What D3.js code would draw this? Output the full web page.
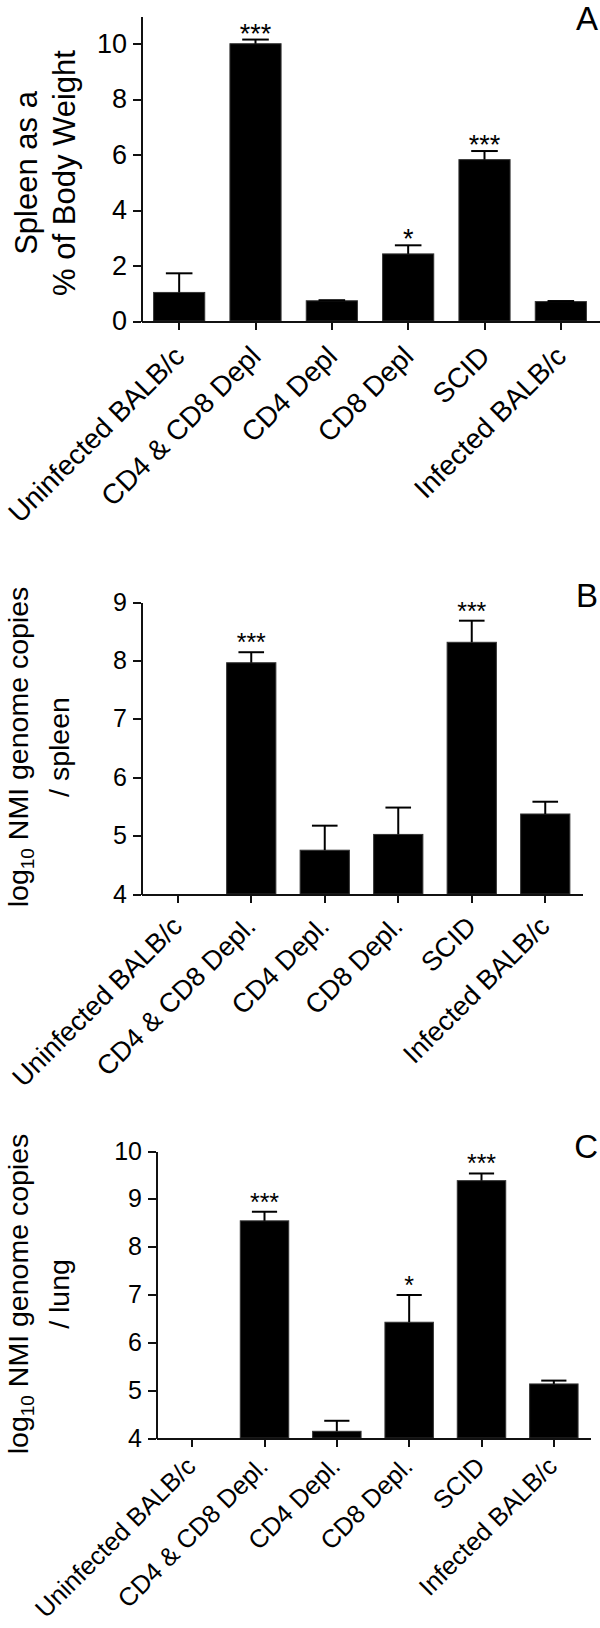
<!DOCTYPE html>
<html>
<head>
<meta charset="utf-8">
<script src="https://cdn.jsdelivr.net/npm/d3@7"></script>
<style>
	body { margin: 0; background: #fff; }
	svg { display: block; font-family: "Liberation Sans", Arial, sans-serif; }
	.axis path, .axis line { stroke: #111; stroke-width: 2; shape-rendering: crispEdges; }
</style>
</head>
<body>
<div id="chart"></div>
<script>
// categories
var labelsA = ["Uninfected BALB/c", "CD4 & CD8 Depl", "CD4 Depl", "CD8 Depl", "SCID", "Infected BALB/c"];
var labelsBC = ["Uninfected BALB/c", "CD4 & CD8 Depl.", "CD4 Depl.", "CD8 Depl.", "SCID", "Infected BALB/c"];

// A: spleen as % of body weight (mean, SEM)
var spleenWeight = [1.03, 10.0, 0.73, 2.42, 5.82, 0.70];
var spleenWeightErr = [0.69, 0.15, 0.02, 0.31, 0.31, 0.02];
var starsA = ["", "***", "", "*", "***", ""];

// B: log10 NMI genome copies / spleen
var spleenCopies = [4, 7.96, 4.75, 5.02, 8.31, 5.37];
var spleenCopiesErr = [0, 0.18, 0.42, 0.46, 0.37, 0.21];
var starsB = ["", "***", "", "", "***", ""];

// C: log10 NMI genome copies / lung
var lungCopies = [4, 8.54, 4.14, 6.42, 9.38, 5.13];
var lungCopiesErr = [0, 0.19, 0.22, 0.57, 0.15, 0.07];
var starsC = ["", "***", "", "*", "***", ""];

// tick values
var ticksA = [0, 2, 4, 6, 8, 10];
var ticksB = [4, 5, 6, 7, 8, 9];
var ticksC = [4, 5, 6, 7, 8, 9, 10];

var svg = d3.select("#chart")
	.append("svg")
		.attr("width", 600)
		.attr("height", 1628);

function drawPanel(p) {
	var rows = p.labels.map(function(l, i) {
		return {label: l, value: p.values[i], err: p.errs[i], star: p.stars[i]};
	});

	var xScale = d3.scaleBand()
		.domain(p.labels)
		.range(p.xRange)
		.paddingInner(0.33)
		.paddingOuter(0.165);
	var yScale = d3.scaleLinear()
		.domain(p.domain)
		.range(p.yRange);

	var g = svg.append("g");

	// bars
	g.selectAll(".bar")
		.data(rows.filter(function(d) { return d.value > p.domain[0]; }))
		.enter().append("rect")
			.attr("class", "bar")
			.attr("x", function(d) { return xScale(d.label); })
			.attr("width", xScale.bandwidth())
			.attr("y", function(d) { return yScale(d.value); })
			.attr("height", function(d) { return yScale(p.domain[0]) - yScale(d.value); })
			.attr("fill", "#000")
			.attr("stroke", "#333")
			.attr("stroke-width", 1);

	// error bars (upper only)
	var eb = g.selectAll(".err")
		.data(rows.filter(function(d) { return d.err > 0; }))
		.enter().append("g")
			.attr("class", "err")
			.attr("stroke", "#000")
			.attr("stroke-width", 2);
	eb.append("line")
		.attr("x1", function(d) { return xScale(d.label) + xScale.bandwidth() / 2; })
		.attr("x2", function(d) { return xScale(d.label) + xScale.bandwidth() / 2; })
		.attr("y1", function(d) { return yScale(d.value); })
		.attr("y2", function(d) { return yScale(d.value + d.err); });
	eb.append("line")
		.attr("x1", function(d) { return xScale(d.label) + xScale.bandwidth() * 0.24; })
		.attr("x2", function(d) { return xScale(d.label) + xScale.bandwidth() * 0.76; })
		.attr("y1", function(d) { return yScale(d.value + d.err); })
		.attr("y2", function(d) { return yScale(d.value + d.err); });

	// significance stars
	g.selectAll(".star")
		.data(rows.filter(function(d) { return d.star; }))
		.enter().append("text")
			.attr("class", "star")
			.attr("x", function(d) { return xScale(d.label) + xScale.bandwidth() / 2; })
			.attr("y", function(d) { return yScale(d.value + d.err) + p.starOffset; })
			.attr("text-anchor", "middle")
			.style("font-size", p.starSize + "px")
			.text(function(d) { return d.star; });

	// Y axis
	var yAxis = d3.axisLeft(yScale)
		.tickValues(p.ticks)
		.tickFormat(d3.format("d"))
		.tickSize(8)
		.tickSizeOuter(0)
		.tickPadding(6);
	var ya = g.append("g")
		.attr("class", "axis")
		.attr("transform", "translate(" + p.xRange[0] + ",0)")
		.call(yAxis);
	ya.selectAll("text")
		.style("font-size", p.tickSize + "px")
		.attr("fill", "#000");

	// X axis
	var xAxis = d3.axisBottom(xScale)
		.tickSize(9)
		.tickSizeOuter(0);
	var xa = g.append("g")
		.attr("class", "axis")
		.attr("transform", "translate(0," + yScale(p.domain[0]) + ")")
		.call(xAxis);
	xa.selectAll("text")
		.attr("x", 0)
		.attr("y", 0)
		.attr("dy", 0)
		.attr("text-anchor", "end")
		.attr("transform", "translate(" + p.labelDx + "," + p.labelDy + ") rotate(-45)")
		.style("font-size", p.labelSize + "px")
		.attr("fill", "#000");

	// Y axis title (two lines)
	var cy = p.titleY;
	var t1 = g.append("text")
		.attr("text-anchor", "middle")
		.attr("transform", "translate(" + p.titleX[0] + "," + cy + ") rotate(-90)")
		.style("font-size", p.titleSize + "px");
	if (p.log) {
		t1.append("tspan").text("log");
		t1.append("tspan").text("10").style("font-size", "19px").attr("dy", 6);
		t1.append("tspan").text(" NMI genome copies").attr("dy", -6);
	} else {
		t1.text(p.title[0]);
	}
	g.append("text")
		.attr("text-anchor", "middle")
		.attr("transform", "translate(" + p.titleX[1] + "," + cy + ") rotate(-90)")
		.style("font-size", p.titleSize + "px")
		.text(p.title[1]);

	// panel letter
	g.append("text")
		.attr("x", 598)
		.attr("y", p.letterY)
		.attr("text-anchor", "end")
		.style("font-size", "33px")
		.text(p.letter);
}

drawPanel({
	labels: labelsA, values: spleenWeight, errs: spleenWeightErr, stars: starsA,
	ticks: ticksA, domain: [0, 11], xRange: [141, 599], yRange: [321, 16], tickSize: 27,
	starOffset: 3, starSize: 27, labelDx: 7, labelDy: 37, labelSize: 28,
	title: ["Spleen as a", "% of Body Weight"], titleX: [37, 75], titleY: 173, titleSize: 31,
	letter: "A", letterY: 30
});
drawPanel({
	labels: labelsBC, values: spleenCopies, errs: spleenCopiesErr, stars: starsB,
	ticks: ticksB, domain: [4, 9], xRange: [141, 582], yRange: [894, 602], tickSize: 25,
	starOffset: -1, starSize: 25, labelDx: 6, labelDy: 34, labelSize: 27,
	log: true, title: ["", "/ spleen"], titleX: [28, 69], titleY: 747, titleSize: 28.5,
	letter: "B", letterY: 607
});
drawPanel({
	labels: labelsBC, values: lungCopies, errs: lungCopiesErr, stars: starsC,
	ticks: ticksC, domain: [4, 10], xRange: [156, 590], yRange: [1438, 1151], tickSize: 25,
	starOffset: -1, starSize: 25, labelDx: 5, labelDy: 30, labelSize: 25.5,
	log: true, title: ["", "/ lung"], titleX: [28, 69], titleY: 1294, titleSize: 28.5,
	letter: "C", letterY: 1158
});
</script>
</body>
</html>
